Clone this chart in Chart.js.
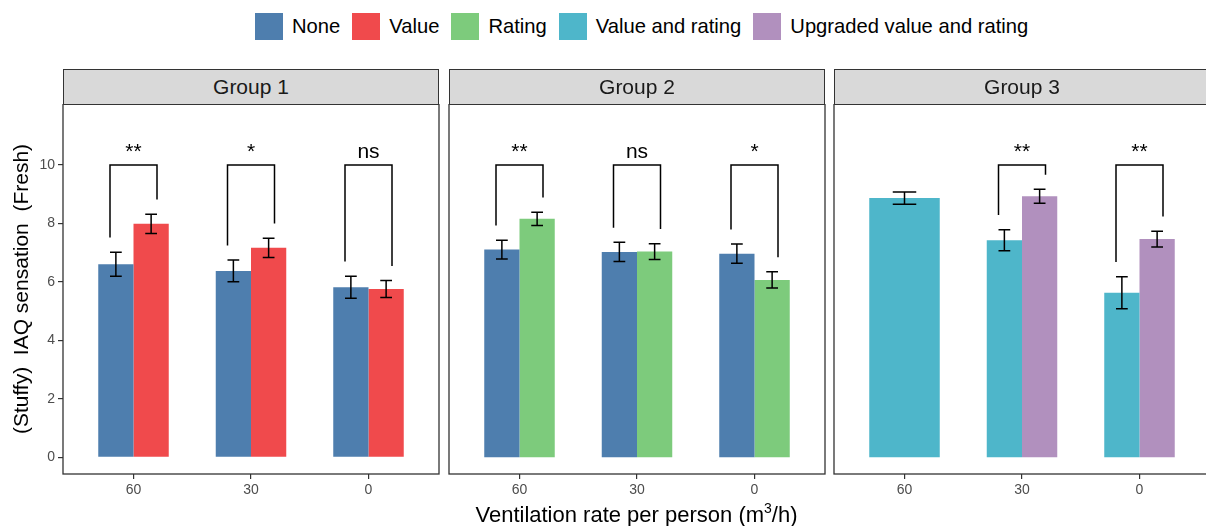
<!DOCTYPE html>
<html>
<head>
<meta charset="utf-8">
<script src="https://cdn.jsdelivr.net/npm/chart.js@4/dist/chart.umd.min.js"></script>
<style>
  html, body { margin: 0; padding: 0; }
  body {
    width: 1206px; height: 526px; overflow: hidden; position: relative;
    background: #fff; font-family: "Liberation Sans", Arial, sans-serif; color: #000;
  }
  .legend { position: absolute; top: 13px; left: 255px; display: flex; align-items: center; white-space: nowrap; }
  .legend .item { display: flex; align-items: center; margin-right: 12px; }
  .legend .swatch { width: 28px; height: 27px; margin-right: 9px; }
  .legend .label { font-size: 20.2px; line-height: 27px; }
  canvas { position: absolute; }
  .strip {
    position: absolute; box-sizing: border-box; background: #d9d9d9;
    border: 1.3px solid #333; text-align: center; font-size: 21px; color: #1a1a1a;
  }
  .xtitle { position: absolute; left: 63px; width: 1147px; text-align: center; font-size: 22px; line-height: 22px; top: 504px; }
  .xtitle sup { font-size: 14px; line-height: 0; vertical-align: 9px; }
</style>
</head>
<body>
<div class="legend" id="legend"></div>
<canvas id="c1" width="440" height="400" style="left:0px;top:104px"></canvas>
<canvas id="c2" width="378" height="400" style="left:448px;top:104px"></canvas>
<canvas id="c3" width="378" height="400" style="left:833px;top:104px"></canvas>
<div class="xtitle">Ventilation rate per person (m<sup>3</sup>/h)</div>

<script>
// Ventilation rate categories (m3/h per person)
const categories = ['60', '30', '0'];
const yTicks = [0, 2, 4, 6, 8, 10];

const groupNames = ['Group 1', 'Group 2', 'Group 3'];

const seriesNames = ['None', 'Value', 'Rating', 'Value and rating', 'Upgraded value and rating'];
const seriesColors = ['#4e7eae', '#f04a4c', '#7dcb7c', '#4eb6ca', '#b190be'];

// Group 1: None vs Value (mean, standard error)
const g1None = [6.61, 6.38, 5.82];
const g1NoneErr = [0.41, 0.37, 0.38];
const g1Value = [7.99, 7.17, 5.76];
const g1ValueErr = [0.33, 0.33, 0.29];
const g1Sig = ['**', '*', 'ns'];

// Group 2: None vs Rating
const g2None = [7.11, 7.03, 6.97];
const g2NoneErr = [0.32, 0.33, 0.33];
const g2Rating = [8.16, 7.04, 6.07];
const g2RatingErr = [0.23, 0.27, 0.28];
const g2Sig = ['**', 'ns', '*'];

// Group 3: Value and rating vs Upgraded value and rating
const g3ValueRating = [8.87, 7.43, 5.63];
const g3ValueRatingErr = [0.21, 0.36, 0.55];
const g3Upgraded = [null, 8.93, 7.47];
const g3UpgradedErr = [null, 0.24, 0.27];
const g3Sig = [null, '**', '**'];

const FONT = '"Liberation Sans", Arial, sans-serif';

// legend
const legendEl = document.getElementById('legend');
seriesNames.forEach((name, i) => {
  const item = document.createElement('div');
  item.className = 'item';
  const sw = document.createElement('div');
  sw.className = 'swatch';
  sw.style.background = seriesColors[i];
  const lb = document.createElement('div');
  lb.className = 'label';
  lb.textContent = name;
  item.appendChild(sw); item.appendChild(lb);
  legendEl.appendChild(item);
});

function toPoints(values) {
  return values.map((v, i) => ({ x: i + 1, y: v }));
}

// panel frame around the plotting area
const panelFrame = {
  id: 'panelFrame',
  afterDraw(chart) {
    const { ctx, chartArea: a } = chart;
    ctx.save();
    ctx.strokeStyle = '#333';
    ctx.lineWidth = 1.3;
    ctx.strokeRect(a.left, a.top, a.right - a.left, a.bottom - a.top);
    ctx.restore();
  }
};

// mean +/- standard error whiskers
const errorBars = {
  id: 'errorBars',
  afterDatasetsDraw(chart) {
    const { ctx } = chart;
    const ys = chart.scales.y;
    ctx.save();
    ctx.strokeStyle = '#000';
    ctx.lineWidth = 1.5;
    chart.data.datasets.forEach((ds, di) => {
      const meta = chart.getDatasetMeta(di);
      meta.data.forEach((bar, i) => {
        const v = ds.data[i].y, e = ds.err[i];
        if (v == null || e == null) return;
        const hw = bar.width / 6;
        const yTop = ys.getPixelForValue(v + e);
        const yBot = ys.getPixelForValue(v - e);
        ctx.beginPath();
        ctx.moveTo(bar.x, yTop); ctx.lineTo(bar.x, yBot);
        ctx.moveTo(bar.x - hw, yTop); ctx.lineTo(bar.x + hw, yTop);
        ctx.moveTo(bar.x - hw, yBot); ctx.lineTo(bar.x + hw, yBot);
        ctx.stroke();
      });
    });
    ctx.restore();
  }
};

// significance brackets between the two bars of each category
const brackets = {
  id: 'brackets',
  afterDatasetsDraw(chart, args, opts) {
    const { ctx } = chart;
    const xs = chart.scales.x, ys = chart.scales.y;
    const [a, b] = chart.data.datasets;
    ctx.save();
    ctx.strokeStyle = '#000';
    ctx.lineWidth = 1.5;
    ctx.fillStyle = '#000';
    ctx.font = '21px ' + FONT;
    ctx.textAlign = 'center';
    ctx.textBaseline = 'alphabetic';
    opts.labels.forEach((lab, i) => {
      if (!lab) return;
      const pos = i + 1;
      const xl = xs.getPixelForValue(pos - opts.halfSpan);
      const xr = xs.getPixelForValue(pos + opts.halfSpan);
      const yTop = ys.getPixelForValue(opts.level);
      const yl = ys.getPixelForValue(a.data[i].y + a.err[i] + opts.gap);
      const yr = ys.getPixelForValue(b.data[i].y + b.err[i] + opts.gap);
      ctx.beginPath();
      ctx.moveTo(xl, yl); ctx.lineTo(xl, yTop); ctx.lineTo(xr, yTop); ctx.lineTo(xr, yr);
      ctx.stroke();
      ctx.fillText(lab, xs.getPixelForValue(pos), yTop - 7.5);
    });
    ctx.restore();
  }
};

function makeChart(id, datasets, sig, showY) {
  return new Chart(document.getElementById(id), {
    type: 'bar',
    data: { datasets },
    plugins: [panelFrame, errorBars, brackets],
    options: {
      responsive: false,
      animation: false,
      devicePixelRatio: 1,
      layout: { padding: { left: showY ? 0 : 1, right: 1, top: 0, bottom: 0 } },
      datasets: { bar: { categoryPercentage: 0.6, barPercentage: 1.0, skipNull: true, borderWidth: 0 } },
      plugins: {
        legend: { display: false },
        tooltip: { enabled: false },
        brackets: { labels: sig, halfSpan: 0.2, level: 10, gap: 0.5 }
      },
      scales: {
        x: {
          type: 'linear',
          min: 0.4, max: 3.6,
          offset: false,
          afterBuildTicks(scale) { scale.ticks = categories.map((c, i) => ({ value: i + 1 })); },
          afterFit(scale) { scale.height = 30; scale.paddingLeft = 0; scale.paddingRight = 0; },
          grid: { offset: false, drawOnChartArea: false, drawTicks: true, tickLength: 5, color: '#333', lineWidth: 1.2 },
          border: { display: false },
          ticks: {
            autoSkip: false, maxRotation: 0, padding: 3,
            color: '#4d4d4d', font: { family: FONT, size: 14 },
            callback: (v, i) => categories[i]
          }
        },
        y: {
          display: showY,
          min: -0.57, max: 12.09,
          afterBuildTicks(scale) { scale.ticks = yTicks.map(v => ({ value: v })); },
          afterFit(scale) {
            if (!showY) return;
            scale.width = 63; scale.paddingTop = 0; scale.paddingBottom = 0;
          },
          grid: { drawOnChartArea: false, drawTicks: true, tickLength: 5, color: '#333', lineWidth: 1.2 },
          border: { display: false },
          ticks: { padding: 3, color: '#4d4d4d', font: { family: FONT, size: 14 } },
          title: {
            display: true,
            text: '(Stuffy)  IAQ sensation  (Fresh)',
            color: '#000',
            font: { family: FONT, size: 21 },
            padding: { top: 10, bottom: 0 }
          }
        }
      }
    }
  });
}

const charts = [
  makeChart('c1', [
    { label: seriesNames[0], data: toPoints(g1None), err: g1NoneErr, backgroundColor: seriesColors[0] },
    { label: seriesNames[1], data: toPoints(g1Value), err: g1ValueErr, backgroundColor: seriesColors[1] }
  ], g1Sig, true),
  makeChart('c2', [
    { label: seriesNames[0], data: toPoints(g2None), err: g2NoneErr, backgroundColor: seriesColors[0] },
    { label: seriesNames[2], data: toPoints(g2Rating), err: g2RatingErr, backgroundColor: seriesColors[2] }
  ], g2Sig, false),
  makeChart('c3', [
    { label: seriesNames[3], data: toPoints(g3ValueRating), err: g3ValueRatingErr, backgroundColor: seriesColors[3] },
    { label: seriesNames[4], data: toPoints(g3Upgraded), err: g3UpgradedErr, backgroundColor: seriesColors[4] }
  ], g3Sig, false)
];

// facet strips sit directly on top of each panel
charts.forEach((chart, i) => {
  const canvas = chart.canvas;
  const a = chart.chartArea;
  const strip = document.createElement('div');
  strip.className = 'strip';
  const left = canvas.offsetLeft + a.left;
  const top = 69;
  const height = canvas.offsetTop + a.top - top + 1;
  strip.style.left = left + 'px';
  strip.style.top = top + 'px';
  strip.style.width = (a.right - a.left) + 'px';
  strip.style.height = height + 'px';
  strip.style.lineHeight = (height - 2) + 'px';
  strip.textContent = groupNames[i];
  document.body.appendChild(strip);
});
</script>
</body>
</html>
